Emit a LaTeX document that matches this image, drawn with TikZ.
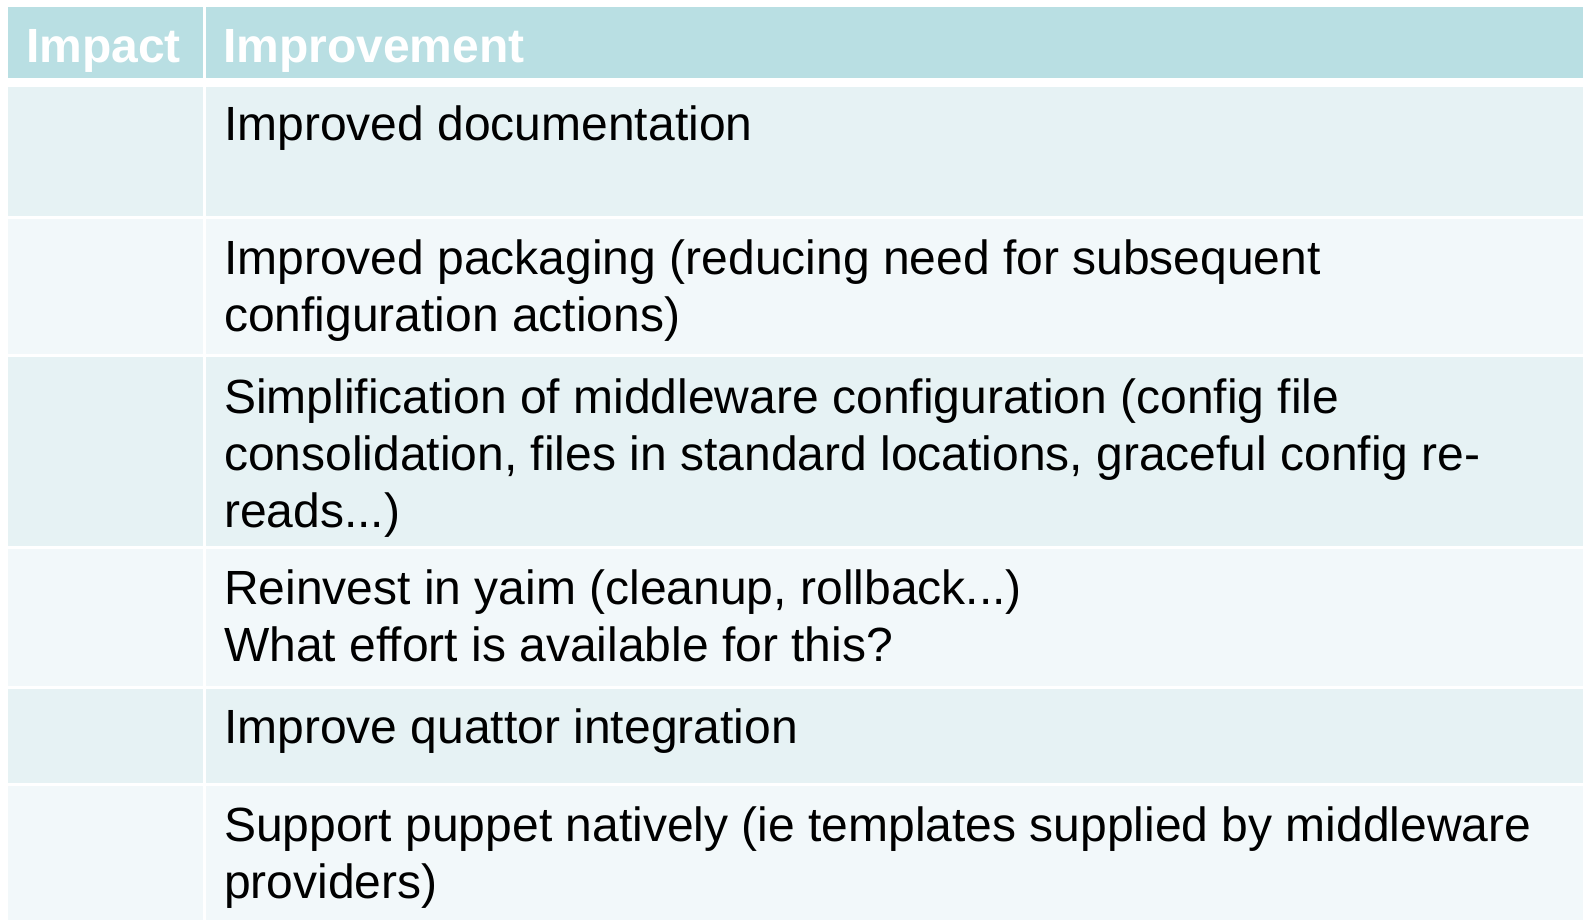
\documentclass[tikz,border=0pt]{standalone}
\usepackage{fontspec}
\setmainfont{Liberation Sans}
\definecolor{headteal}{HTML}{B9DFE3}
\definecolor{rowdark}{HTML}{E6F2F4}
\definecolor{rowlight}{HTML}{F2F8FA}
\tikzset{
  celltext/.style={anchor=north west,inner sep=0pt,align=left,
    font=\fontsize{48}{57}\selectfont,execute at begin node=\strut},
  headtext/.style={celltext,text=white,font=\fontsize{48}{57}\selectfont\bfseries}
}
\begin{document}
\begin{tikzpicture}[x=1pt,y=-1pt]
\useasboundingbox (0,0) rectangle (1583,920);
\fill[headteal] (8,7) rectangle (203,78);
\fill[headteal] (206,7) rectangle (1583,78);
\node[headtext] (impact) at (26,22.1) {Impact};
\node[headtext] (improvement) at (223,22.1) {Improvement};
\foreach \t/\b/\c in {87/216/rowdark,219/354/rowlight,357/546/rowdark,549/686/rowlight,689/783/rowdark,786/920/rowlight} {
  \fill[\c] (8,\t) rectangle (203,\b);
  \fill[\c] (206,\t) rectangle (1583,\b);
}
\node[celltext] (doc) at (224,100.1) {Improved documentation};
\node[celltext] (packaging) at (224,239.5) {Improved packaging (reducing need for subsequent\\configuration actions)};
\node[celltext] (simplify) at (224,378.5) {Simplification of middleware configuration (config file\\consolidation, files in standard locations, graceful config re-\\reads...)};
\node[celltext] (yaim) at (224,570) {Reinvest in yaim (cleanup, rollback...)\\What effort is available for this?};
\node[celltext] (quattor) at (224,703.1) {Improve quattor integration};
\node[celltext] (puppet) at (224,806.5) {Support puppet natively (ie templates supplied by middleware\\providers)};
\end{tikzpicture}
\end{document}
